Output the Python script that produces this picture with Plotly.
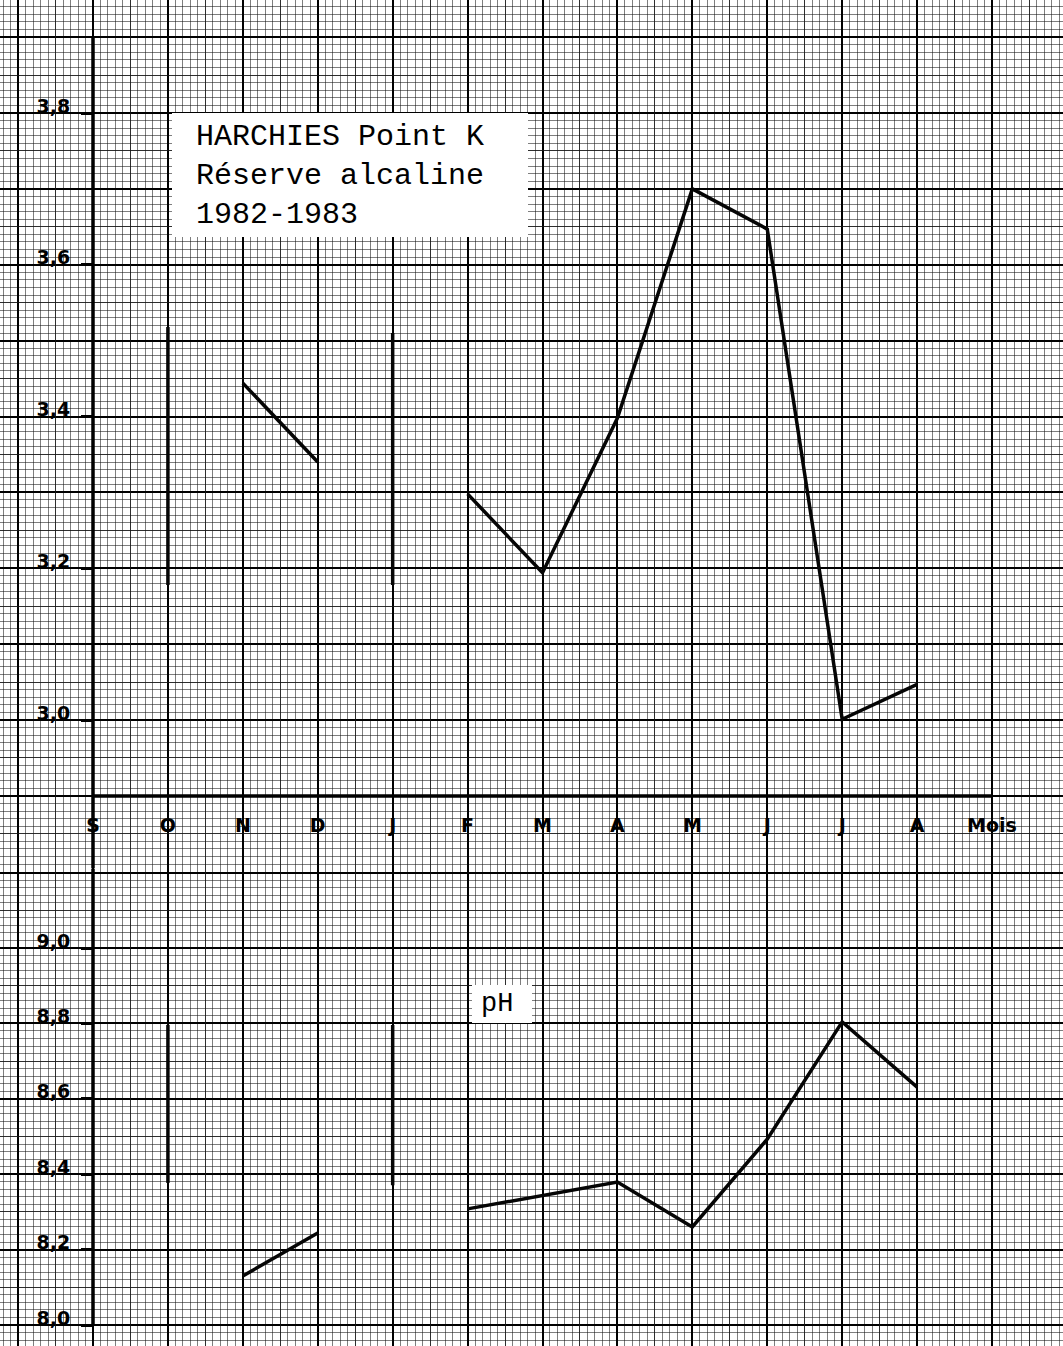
import plotly.graph_objects as go

# ---------------- data ----------------
months = ["S", "O", "N", "D", "J", "F", "M", "A", "M", "J", "J", "A", "Mois"]
month_idx = list(range(12))

# Réserve alcaline (None = not joined)
ra_values = [None, None, 3.444, 3.340, None, 3.298, 3.194, 3.398, 3.700, 3.647, 3.001, 3.047]
# vertical range bars (O and J)
ra_bar_months = [1, 4]
ra_bar_low = [3.178, 3.178]
ra_bar_high = [3.518, 3.510]

# pH
ph_values = [None, None, 8.130, 8.244, None, 8.308, 8.343, 8.379, 8.260, 8.493, 8.804, 8.631]
ph_bar_months = [1, 4]
ph_bar_low = [8.377, 8.371]
ph_bar_high = [8.796, 8.796]

ra_ticks = [3.0, 3.2, 3.4, 3.6, 3.8]
ph_ticks = [8.0, 8.2, 8.4, 8.6, 8.8, 9.0]

title_text = "HARCHIES Point K<br>Réserve alcaline<br>1982-1983"
ph_text = "pH"

# ---------------- geometry ----------------
W, H = 1063, 1346
PX_MONTH = (992 - 93) / 12.0
RX = [-93 / PX_MONTH, (W - 93) / PX_MONTH]
SPLIT_PX = 868.5
SPLIT = 1 - SPLIT_PX / H
PX_RA = (720 - 113) / 0.8
RY = [3.8 - (SPLIT_PX - 113) / PX_RA, 3.8 + 113 / PX_RA]
PX_PH = (1325 - 948) / 1.0
RY2 = [8.0 - (H - 1325) / PX_PH, 9.0 + (948 - SPLIT_PX) / PX_PH]
YAX_POS = 93 / W
XAX_POS = 1 - 796 / H

MAJOR = "#000000"
MED = "rgba(20,20,20,0.75)"
MINOR = "rgba(20,20,20,0.55)"
INK = "#050505"

def bar_xy(ms, lo, hi):
    xs, ys = [], []
    for m, a, b in zip(ms, lo, hi):
        xs += [m, m, None]
        ys += [a, b, None]
    return xs, ys

fig = go.Figure()
line_style = dict(color=INK, width=3.5)

fig.add_trace(go.Scatter(x=month_idx, y=ra_values, mode="lines", line=line_style,
                         connectgaps=False, xaxis="x", yaxis="y", hoverinfo="skip"))
bx, by = bar_xy(ra_bar_months, ra_bar_low, ra_bar_high)
fig.add_trace(go.Scatter(x=bx, y=by, mode="lines", line=line_style, xaxis="x", yaxis="y", hoverinfo="skip"))

fig.add_trace(go.Scatter(x=month_idx, y=ph_values, mode="lines", line=line_style,
                         connectgaps=False, xaxis="x", yaxis="y2", hoverinfo="skip"))
bx, by = bar_xy(ph_bar_months, ph_bar_low, ph_bar_high)
fig.add_trace(go.Scatter(x=bx, y=by, mode="lines", line=line_style, xaxis="x", yaxis="y2", hoverinfo="skip"))

# dummy traces so that overlay (grid / label) subplots exist
for xa, ya in [("x3", "y"), ("x3", "y2"), ("x", "y3"), ("x", "y4"),
               ("x", "y5"), ("x", "y6"), ("x4", "y")]:
    fig.add_trace(go.Scatter(x=[None], y=[None], mode="lines", xaxis=xa, yaxis=ya,
                             hoverinfo="skip", showlegend=False))

noticks = dict(showticklabels=False, ticks="", zeroline=False, showline=False)
label_font = dict(family="DejaVu Sans", size=19, color="black", weight="bold")

fig.update_layout(
    width=W, height=H,
    margin=dict(l=0, r=0, t=0, b=0, pad=0),
    paper_bgcolor="white", plot_bgcolor="white",
    showlegend=False,
    xaxis=dict(domain=[0, 1], range=RX, anchor="y", showgrid=True, gridcolor=MAJOR, gridwidth=2,
               tick0=0, dtick=1,
               minor=dict(dtick=0.1, showgrid=True, gridcolor=MINOR, gridwidth=1), **noticks),
    xaxis3=dict(overlaying="x", range=RX, anchor="y", showgrid=True, gridcolor=MED, gridwidth=1,
                tick0=0.5, dtick=1, **noticks),
    xaxis4=dict(overlaying="x", range=RX, anchor="free", position=XAX_POS, side="bottom",
                tickmode="array", tickvals=list(range(len(months))), ticktext=months,
                ticks="", showgrid=False, zeroline=False, showline=False,
                tickfont=label_font, ticklabelstandoff=16),
    yaxis=dict(domain=[SPLIT, 1], range=RY, anchor="x", showgrid=True, gridcolor=MAJOR, gridwidth=2,
               tick0=0, dtick=0.1,
               minor=dict(dtick=0.01, showgrid=True, gridcolor=MINOR, gridwidth=1), **noticks),
    yaxis3=dict(overlaying="y", range=RY, anchor="x", showgrid=True, gridcolor=MED, gridwidth=1,
                tick0=0.05, dtick=0.1, **noticks),
    yaxis5=dict(overlaying="y", range=RY, anchor="free", position=YAX_POS, side="left",
                tickmode="array", tickvals=ra_ticks,
                ticktext=[f"{v:.1f}".replace(".", ",") for v in ra_ticks],
                ticks="outside", ticklen=12, tickwidth=3, tickcolor="black",
                showgrid=False, zeroline=False, showline=False,
                tickfont=label_font, ticklabelstandoff=7, ticklabelshift=-7),
    yaxis2=dict(domain=[0, SPLIT], range=RY2, anchor="x", showgrid=True, gridcolor=MAJOR, gridwidth=2,
                tick0=0, dtick=0.2,
                minor=dict(dtick=0.02, showgrid=True, gridcolor=MINOR, gridwidth=1), **noticks),
    yaxis4=dict(overlaying="y2", range=RY2, anchor="x", showgrid=True, gridcolor=MED, gridwidth=1,
                tick0=0.1, dtick=0.2, **noticks),
    yaxis6=dict(overlaying="y2", range=RY2, anchor="free", position=YAX_POS, side="left",
                tickmode="array", tickvals=ph_ticks,
                ticktext=[f"{v:.1f}".replace(".", ",") for v in ph_ticks],
                ticks="outside", ticklen=12, tickwidth=3, tickcolor="black",
                showgrid=False, zeroline=False, showline=False,
                tickfont=label_font, ticklabelstandoff=7, ticklabelshift=-7),
)

# axis lines and white label boxes
fig.add_shape(type="line", xref="x", yref="y", x0=0, x1=0, y0=RY[0], y1=3.9,
              line=dict(color="black", width=3.5))
fig.add_shape(type="line", xref="x", yref="y2", x0=0, x1=0, y0=8.0, y1=RY2[1],
              line=dict(color="black", width=3.5))
fig.add_shape(type="line", xref="x", yref="y", x0=0, x1=12, y0=2.9, y1=2.9,
              line=dict(color="black", width=3.5))
fig.add_shape(type="rect", xref="paper", yref="paper",
              x0=172 / W, x1=528 / W, y0=1 - 237 / H, y1=1 - 113 / H,
              fillcolor="white", line=dict(width=0))
fig.add_shape(type="rect", xref="paper", yref="paper",
              x0=472 / W, x1=532 / W, y0=1 - 1023 / H, y1=1 - 985 / H,
              fillcolor="white", line=dict(width=0))

mono = "Liberation Mono, Courier New, monospace"
fig.add_annotation(xref="paper", yref="paper", x=194 / W, y=1 - 176 / H,
                   xanchor="left", yanchor="middle", align="left", showarrow=False,
                   text=title_text, font=dict(family=mono, size=30, color="black"))
fig.add_annotation(xref="paper", yref="paper", x=497 / W, y=1 - 1004 / H,
                   xanchor="center", yanchor="middle", showarrow=False,
                   text=ph_text, font=dict(family=mono, size=27, color="black"))

fig.write_html("out.html", config={"displayModeBar": False},
               post_script="document.body.style.margin='0';document.body.style.overflow='hidden';")
